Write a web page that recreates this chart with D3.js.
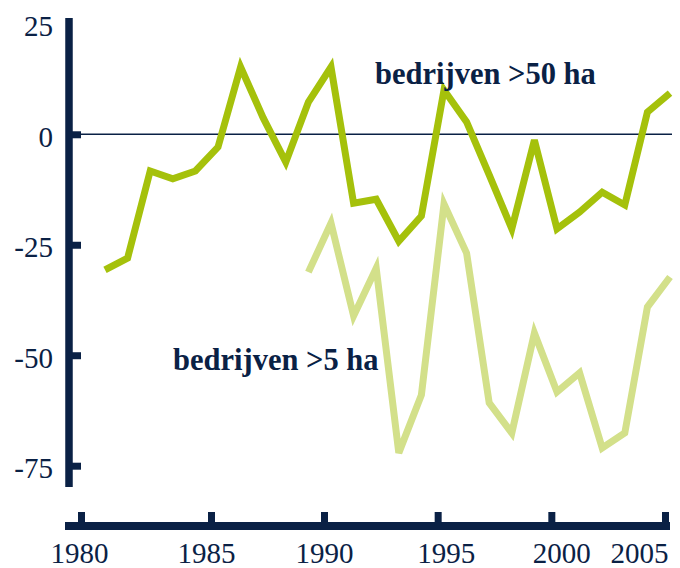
<!DOCTYPE html>
<html>
<head>
<meta charset="utf-8">
<script src="https://cdn.jsdelivr.net/npm/d3@7"></script>
<style>
  body { margin: 0; background: #fff; }
</style>
</head>
<body>
<div id="chart"></div>
<script>
// index values per year (1980-2005 for >50 ha, 1989-2005 for >5 ha)
const yearsBig = d3.range(1980, 2006);
const valuesBig = [-30.7, -28.0, -8.3, -10.1, -8.3, -2.9, 15.2, 3.7, -6.3, 7.3,
  15.2, -15.6, -14.7, -24.2, -18.5, 10.0, 2.8, -9.2, -21.4, -1.3,
  -21.4, -17.6, -13.1, -16.0, 5.0, 9.3];
const yearsSmall = d3.range(1989, 2006);
const valuesSmall = [-31.2, -20.1, -41.1, -30.3, -72.1, -59.0, -15.8, -26.9, -60.8,
  -67.6, -45.0, -58.3, -54.0, -71.0, -67.6, -39.1, -32.3];
const xTicks = [1980, 1985, 1990, 1995, 2000, 2005];
const yTicks = [25, 0, -25, -50, -75];

const W = 680, H = 568;
const navy = "#0a2145";
const serif = "'Liberation Serif', 'Times New Roman', Times, serif";

const svg = d3.select("#chart").append("svg")
  .attr("width", W)
  .attr("height", H)
  .style("font-family", serif);

// data scale and a separate (uneven) scale for the drawn axis ticks
const x = d3.scaleLinear().domain([1980, 2005]).range([105, 670]);
const xAxisScale = d3.scaleLinear().domain([1980, 1985, 1990, 2005]).range([81, 211, 324, 665]);
const y = d3.scaleLinear().domain([-75, 25]).range([465.7, 23.8]);

const axisX = 69, axisY = 526;

// zero line
svg.append("line")
  .attr("x1", axisX).attr("x2", 672)
  .attr("y1", y(0)).attr("y2", y(0))
  .attr("stroke", navy).attr("stroke-width", 1.5);

// y axis
svg.append("line")
  .attr("x1", axisX).attr("x2", axisX)
  .attr("y1", 18).attr("y2", 487)
  .attr("stroke", navy).attr("stroke-width", 7.5);

const gy = svg.append("g")
  .attr("transform", `translate(${axisX},0)`)
  .call(d3.axisLeft(y).tickValues(yTicks).tickSize(-12).tickPadding(16).tickFormat(d3.format("d")));
gy.attr("font-family", null).attr("font-size", null);
gy.select(".domain").remove();
gy.selectAll(".tick line").attr("stroke", navy).attr("stroke-width", 7)
  .attr("display", d => d === 25 ? "none" : null);
gy.selectAll(".tick text")
  .style("font-family", serif).style("font-size", "29px").attr("fill", navy)
  .attr("dy", "0.42em")
  .text(d => d < 0 ? "-" + Math.abs(d) : d);

// x axis
svg.append("line")
  .attr("x1", 65).attr("x2", 670)
  .attr("y1", axisY).attr("y2", axisY)
  .attr("stroke", navy).attr("stroke-width", 8);

// labels in the original sit a little off their ticks
const labelShift = { 1980: -2, 1985: -5, 1990: 0, 1995: 8, 2000: 10, 2005: 3 };

const gx = svg.append("g")
  .attr("transform", `translate(0,${axisY})`)
  .call(d3.axisBottom(xAxisScale).tickValues(xTicks).tickSize(-14).tickPadding(16).tickFormat(d3.format("d")));
gx.attr("font-family", null).attr("font-size", null);
gx.select(".domain").remove();
gx.selectAll(".tick line").attr("stroke", navy).attr("stroke-width", 7);
gx.selectAll(".tick text")
  .style("font-family", serif).style("font-size", "29px").attr("fill", navy)
  .attr("text-anchor", d => d === 2005 ? "end" : "middle")
  .attr("dx", d => labelShift[d]);

// series
const line = d3.line()
  .x(d => x(d[0]))
  .y(d => y(d[1]));

svg.append("path")
  .datum(d3.zip(yearsSmall, valuesSmall))
  .attr("d", line)
  .attr("fill", "none")
  .attr("stroke", "#d3e08a")
  .attr("stroke-width", 7)
  .attr("stroke-linejoin", "miter");

svg.append("path")
  .datum(d3.zip(yearsBig, valuesBig))
  .attr("d", line)
  .attr("fill", "none")
  .attr("stroke", "#a5c10b")
  .attr("stroke-width", 7)
  .attr("stroke-linejoin", "miter");

// labels
svg.append("text")
  .attr("x", 375).attr("y", 84)
  .style("font-size", "30.5px").attr("font-weight", "bold").attr("fill", navy)
  .text("bedrijven >50 ha");

svg.append("text")
  .attr("x", 173).attr("y", 370)
  .style("font-size", "30.5px").attr("font-weight", "bold").attr("fill", navy)
  .text("bedrijven >5 ha");
</script>
</body>
</html>
